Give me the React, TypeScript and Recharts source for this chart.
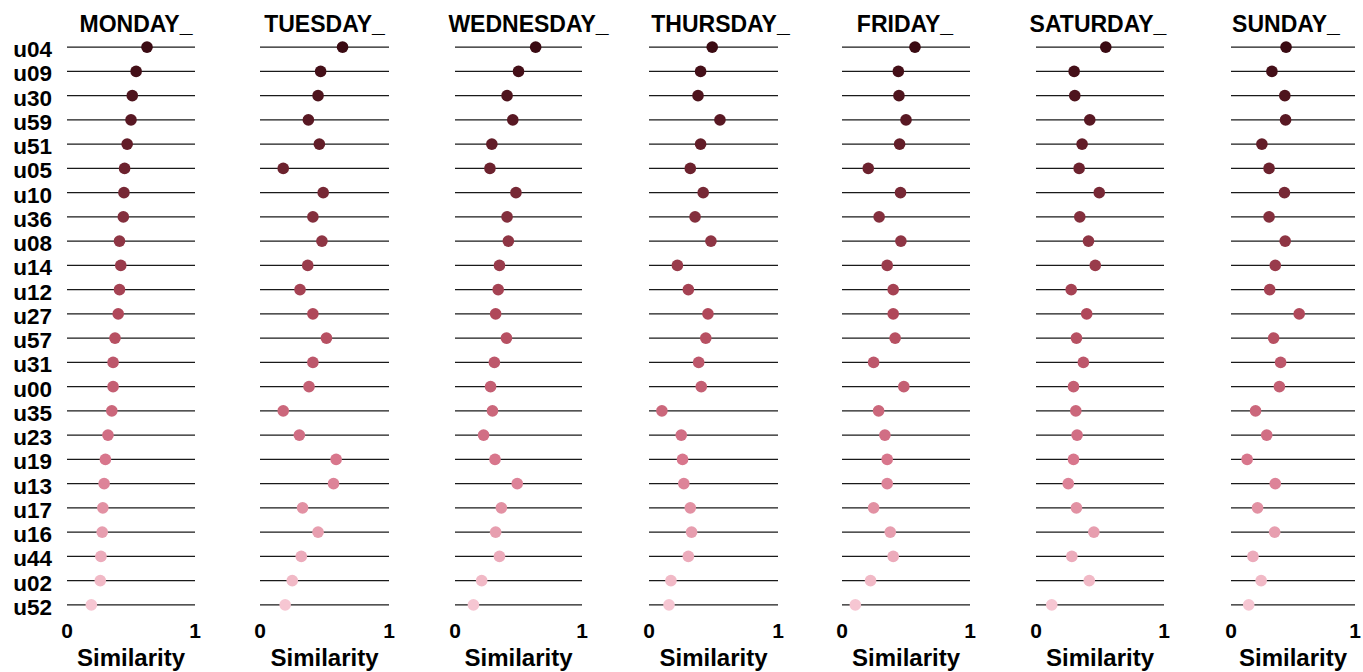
import React from "react";
import {
  ScatterChart,
  Scatter,
  XAxis,
  YAxis,
  ReferenceLine,
  Cell,
} from "recharts";

const users = [
  "u04", "u09", "u30", "u59", "u51", "u05", "u10", "u36", "u08", "u14", "u12", "u27",
  "u57", "u31", "u00", "u35", "u23", "u19", "u13", "u17", "u16", "u44", "u02", "u52",
];

const days = ["MONDAY_", "TUESDAY_", "WEDNESDAY_", "THURSDAY_", "FRIDAY_", "SATURDAY_", "SUNDAY_"];

const monday = [0.625, 0.54, 0.51, 0.5, 0.47, 0.45, 0.445, 0.44, 0.41, 0.42, 0.41, 0.4,
  0.375, 0.36, 0.36, 0.35, 0.32, 0.3, 0.29, 0.28, 0.275, 0.265, 0.26, 0.19];
const tuesday = [0.64, 0.47, 0.45, 0.375, 0.46, 0.18, 0.49, 0.41, 0.48, 0.37, 0.31, 0.41,
  0.515, 0.41, 0.38, 0.18, 0.305, 0.59, 0.57, 0.33, 0.45, 0.32, 0.25, 0.195];
const wednesday = [0.635, 0.5, 0.41, 0.455, 0.29, 0.275, 0.48, 0.41, 0.42, 0.35, 0.34, 0.32,
  0.405, 0.31, 0.28, 0.295, 0.225, 0.315, 0.49, 0.365, 0.32, 0.35, 0.21, 0.145];
const thursday = [0.49, 0.4, 0.38, 0.55, 0.4, 0.32, 0.42, 0.357, 0.48, 0.22, 0.305, 0.457,
  0.44, 0.385, 0.405, 0.1, 0.25, 0.26, 0.27, 0.32, 0.33, 0.305, 0.17, 0.155];
const friday = [0.57, 0.44, 0.445, 0.5, 0.45, 0.205, 0.457, 0.29, 0.46, 0.353, 0.4, 0.4,
  0.415, 0.247, 0.483, 0.286, 0.335, 0.353, 0.353, 0.247, 0.377, 0.4, 0.223, 0.104];
const saturday = [0.545, 0.298, 0.303, 0.42, 0.36, 0.337, 0.494, 0.342, 0.41, 0.463, 0.275, 0.396,
  0.316, 0.37, 0.293, 0.311, 0.321, 0.293, 0.252, 0.316, 0.452, 0.28, 0.416, 0.123];
const sunday = [0.444, 0.33, 0.434, 0.44, 0.249, 0.307, 0.431, 0.307, 0.437, 0.357, 0.312, 0.55,
  0.344, 0.4, 0.39, 0.198, 0.288, 0.13, 0.357, 0.214, 0.352, 0.177, 0.243, 0.143];

const dayValues = [monday, tuesday, wednesday, thursday, friday, saturday, sunday];

const xTicks = [0, 1];

// panel plot-area left edges and widths (px)
const plotLefts = [67, 260, 455, 649, 842, 1036, 1231];
const plotWidths = [128, 129, 127, 129, 128, 128, 124];
// titles are not exactly centred over their panels
const titleShift = [5, 0, 10, 7, -1, -2, -7];
const TOP = 35;
const H = 672;
const X_AXIS_H = 55;
const FONT = "'Liberation Sans', Arial, sans-serif";

// dark maroon at the top rows fading to light pink at the bottom
const colorStops: [number, number[]][] = [
  [0, [58, 10, 18]],
  [5, [108, 34, 46]],
  [11, [176, 72, 90]],
  [17, [216, 118, 140]],
  [23, [246, 198, 210]],
];

const rowColor = (i: number) => {
  for (let k = 0; k < colorStops.length - 1; k++) {
    const [a, ca] = colorStops[k];
    const [b, cb] = colorStops[k + 1];
    if (i <= b) {
      const t = (i - a) / (b - a);
      const c = ca.map((v, j) => Math.round(v + (cb[j] - v) * t));
      return `rgb(${c[0]},${c[1]},${c[2]})`;
    }
  }
  return "rgb(246,198,210)";
};

const Dot = (props: any) => (
  <circle cx={props.cx} cy={props.cy} r={5.8} fill={props.fill} />
);

const XTick = (props: any) => (
  <text
    x={props.x}
    y={props.y + 21}
    textAnchor="middle"
    fontFamily={FONT}
    fontWeight="bold"
    fontSize={21}
    fill="#000"
  >
    {props.payload.value}
  </text>
);

const YTick = (props: any) => (
  <text
    x={props.x}
    y={props.y + 10}
    textAnchor="end"
    fontFamily={FONT}
    fontWeight="bold"
    fontSize={22.5}
    fill="#000"
  >
    {users[props.payload.value]}
  </text>
);

const Panel = ({ index }: { index: number }) => {
  const showY = index === 0;
  const plotW = plotWidths[index];
  const marginLeft = showY ? 0 : 12;
  const yWidth = showY ? plotLefts[0] : 0;
  const left = plotLefts[index] - marginLeft - yWidth;
  const width = marginLeft + yWidth + plotW + 12;
  const data = dayValues[index].map((v, i) => ({ x: v, y: i }));

  return (
    <div style={{ position: "absolute", left, top: 0 }}>
      <ScatterChart
        width={width}
        height={H}
        margin={{ top: TOP, right: 12, bottom: 0, left: marginLeft }}
      >
        <XAxis
          type="number"
          dataKey="x"
          domain={[0, 1]}
          ticks={xTicks}
          axisLine={false}
          tickLine={false}
          tickSize={0}
          tickMargin={0}
          height={X_AXIS_H}
          tick={<XTick />}
          label={{
            value: "Similarity",
            position: "insideBottom",
            offset: 6,
            fontFamily: FONT,
            fontWeight: "bold",
            fontSize: 24,
            fill: "#000",
          }}
        />
        <YAxis
          type="number"
          dataKey="y"
          domain={[-0.5, 23.5]}
          ticks={users.map((_, i) => i)}
          reversed
          hide={!showY}
          width={yWidth}
          axisLine={false}
          tickLine={false}
          tickSize={0}
          tickMargin={15}
          interval={0}
          tick={<YTick />}
        />
        {users.map((u, i) => (
          <ReferenceLine key={u} y={i} stroke="#1a1a1a" strokeWidth={1.2} />
        ))}
        <Scatter data={data} shape={<Dot />} isAnimationActive={false}>
          {data.map((_, i) => (
            <Cell key={i} fill={rowColor(i)} />
          ))}
        </Scatter>
      </ScatterChart>
      <div
        style={{
          position: "absolute",
          top: 13,
          left: plotLefts[index] - left - 60 + titleShift[index],
          width: plotW + 120,
          textAlign: "center",
          fontFamily: FONT,
          fontWeight: "bold",
          fontSize: 23,
          lineHeight: "23px",
          color: "#000",
          whiteSpace: "nowrap",
        }}
      >
        {days[index]}
      </div>
    </div>
  );
};

export default function App() {
  return (
    <div style={{ position: "relative", width: 1363, height: 672, background: "#fff", overflow: "hidden" }}>
      <style>{`body{margin:0}`}</style>
      {days.map((_, i) => (
        <Panel key={i} index={i} />
      ))}
    </div>
  );
}
